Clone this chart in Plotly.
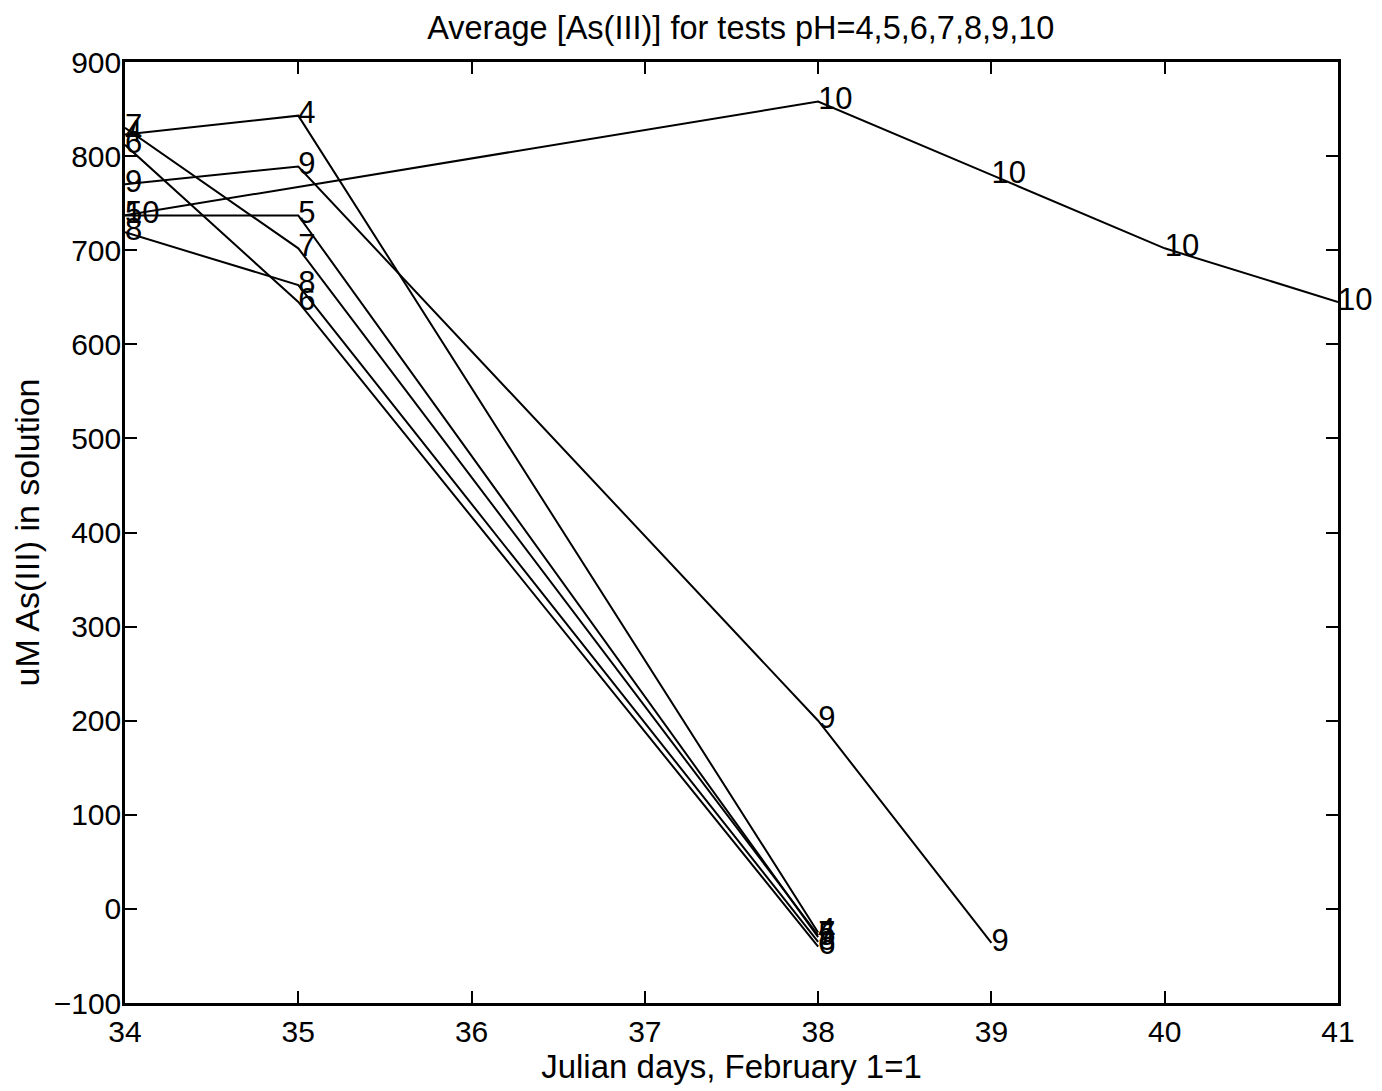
import plotly.graph_objects as go

# Data (Julian day, uM As(III))
ph_labels = ["4", "5", "6", "7", "8", "9", "10"]
days_ph4 = [34, 35, 38]
conc_ph4 = [823, 843, -25]
days_ph5 = [34, 35, 38]
conc_ph5 = [737, 737, -30]
days_ph6 = [34, 35, 38]
conc_ph6 = [812, 645, -40]
days_ph7 = [34, 35, 38]
conc_ph7 = [830, 702, -28]
days_ph8 = [34, 35, 38]
conc_ph8 = [719, 663, -35]
days_ph9 = [34, 35, 38, 39]
conc_ph9 = [770, 789, 200, -36]
days_ph10 = [34, 38, 39, 40, 41]
conc_ph10 = [737, 858, 780, 702, 645]

x_ticks = [34, 35, 36, 37, 38, 39, 40, 41]
y_ticks = [-100, 0, 100, 200, 300, 400, 500, 600, 700, 800, 900]

series = [
    (ph_labels[0], days_ph4, conc_ph4),
    (ph_labels[1], days_ph5, conc_ph5),
    (ph_labels[2], days_ph6, conc_ph6),
    (ph_labels[3], days_ph7, conc_ph7),
    (ph_labels[4], days_ph8, conc_ph8),
    (ph_labels[5], days_ph9, conc_ph9),
    (ph_labels[6], days_ph10, conc_ph10),
]

font_family = "Liberation Sans, Arial, sans-serif"

fig = go.Figure()
for lab, xs, ys in series:
    fig.add_trace(go.Scatter(
        x=xs, y=ys, mode="lines+text",
        text=[lab] * len(xs), textposition="middle right",
        textfont=dict(family=font_family, size=31, color="black"),
        line=dict(color="black", width=2),
        cliponaxis=False, showlegend=False, hoverinfo="x+y",
    ))

fig.update_layout(
    width=1382, height=1091,
    paper_bgcolor="white", plot_bgcolor="white",
    margin=dict(l=125, r=44, t=62, b=88),
    title=dict(text="Average [As(III)] for tests pH=4,5,6,7,8,9,10",
               x=0.536, xanchor="center", y=0.975, yanchor="middle",
               font=dict(family=font_family, size=32.5, color="black")),
    font=dict(family=font_family, color="black"),
)
fig.update_xaxes(
    range=[34, 41], tickvals=x_ticks, ticktext=[str(v) for v in x_ticks],
    ticks="inside", ticklen=12, tickwidth=1.5, tickcolor="black",
    showline=True, linecolor="black", linewidth=2.5, mirror="ticks",
    showgrid=False, zeroline=False,
    tickfont=dict(size=30, family=font_family),
    title=dict(text="Julian days, February 1=1", standoff=6,
               font=dict(size=33, family=font_family)),
)
fig.update_yaxes(
    range=[-100, 900], tickvals=y_ticks,
    ticktext=[("\u2212" + str(abs(v))) if v < 0 else str(v) for v in y_ticks],
    ticks="inside", ticklen=12, tickwidth=1.5, tickcolor="black",
    showline=True, linecolor="black", linewidth=2.5, mirror="ticks",
    showgrid=False, zeroline=False, ticklabelstandoff=-5,
    tickfont=dict(size=30, family=font_family),
    title=dict(text="uM As(III) in solution", standoff=4,
               font=dict(size=34, family=font_family)),
)

fig.write_html("out.html")
